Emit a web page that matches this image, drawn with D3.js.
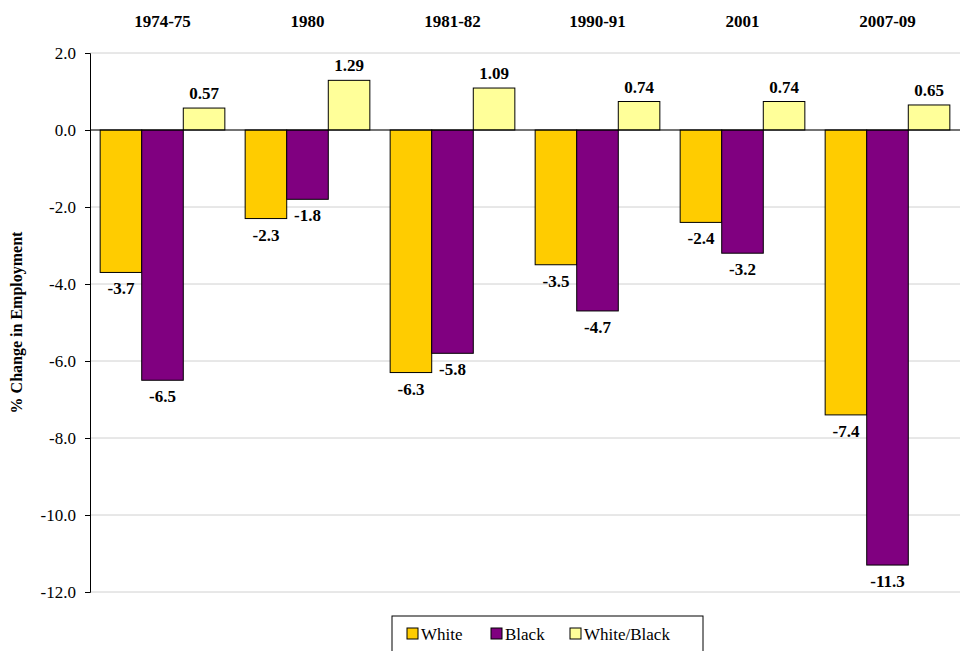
<!DOCTYPE html>
<html>
<head>
<meta charset="utf-8">
<style>
  body {margin:0; background:#fff;}
  svg text {font-family:"Times New Roman",Times,"Liberation Serif","DejaVu Serif",serif;}
  .lbl {font-size:17px; font-weight:bold;}
</style>
<script src="https://cdn.jsdelivr.net/npm/d3@7"></script>
</head>
<body>
<svg id="chart" width="961" height="651"></svg>
<script>
var periods = ["1974-75","1980","1981-82","1990-91","2001","2007-09"];
var seriesNames = ["White","Black","White/Black"];
var white = [-3.7,-2.3,-6.3,-3.5,-2.4,-7.4];
var black = [-6.5,-1.8,-5.8,-4.7,-3.2,-11.3];
var ratio = [0.57,1.29,1.09,0.74,0.74,0.65];
var ratioLabels = ["0.57","1.29","1.09","0.74","0.74","0.65"];
var yTicks = [2,0,-2,-4,-6,-8,-10,-12];
var colors = ["#FFCC00","#800080","#FFFF99"];

var svg = d3.select("#chart");
var pLeft = 90, pRight = 960, pTop = 53, pBottom = 592;
var x = d3.scaleBand().domain(periods).range([pLeft, pRight]).paddingInner(0.14).paddingOuter(0.07);
var xs = d3.scaleBand().domain(seriesNames).range([0, x.bandwidth()]);
var y = d3.scaleLinear().domain([-12, 2]).range([pBottom, pTop]);

svg.append("g").selectAll("line").data(yTicks).enter().append("line")
  .attr("x1", pLeft).attr("x2", pRight)
  .attr("y1", d => y(d)).attr("y2", d => y(d))
  .attr("stroke", "#d0d0d0");

var ax = svg.append("g").attr("transform", "translate(" + pLeft + ",0)")
  .call(d3.axisLeft(y).tickValues(yTicks).tickSize(5).tickFormat(d => d.toFixed(1)));
ax.attr("font-family", null).attr("font-size", null);
ax.select(".domain").attr("stroke", "#000");
ax.selectAll(".tick text").attr("dx", "-6").attr("fill", "#000").style("font-size", "17px");

var data = [white, black, ratio];
data.forEach(function(vals, s) {
  svg.append("g").selectAll("rect").data(vals).enter().append("rect")
    .attr("x", (d, i) => x(periods[i]) + xs(seriesNames[s]))
    .attr("width", xs.bandwidth())
    .attr("y", d => y(Math.max(0, d)))
    .attr("height", d => Math.abs(y(d) - y(0)))
    .attr("fill", colors[s]).attr("stroke", "#000").attr("stroke-width", 1);
  svg.append("g").selectAll("text").data(vals).enter().append("text")
    .attr("class", "lbl").attr("text-anchor", "middle")
    .attr("x", (d, i) => x(periods[i]) + xs(seriesNames[s]) + xs.bandwidth() / 2)
    .attr("y", d => d < 0 ? y(d) + 22 : y(d) - 9)
    .text((d, i) => s == 2 ? ratioLabels[i] : d.toFixed(1));
});

svg.append("line").attr("x1", pLeft).attr("x2", pRight).attr("y1", y(0)).attr("y2", y(0)).attr("stroke", "#000");

svg.append("g").selectAll("text").data(periods).enter().append("text")
  .attr("class", "lbl").attr("text-anchor", "middle")
  .attr("x", d => x(d) + x.bandwidth() / 2).attr("y", 27).text(d => d);

svg.append("text").attr("class", "lbl").attr("text-anchor", "middle")
  .attr("transform", "translate(22," + ((pTop + pBottom) / 2) + ") rotate(-90)")
  .style("font-size", "16px").text("% Change in Employment");

var lg = svg.append("g");
lg.append("rect").attr("x", 392).attr("y", 616).attr("width", 311).attr("height", 40)
  .attr("fill", "#fff").attr("stroke", "#000");
var lx = [407, 491, 570];
seriesNames.forEach(function(n, i) {
  lg.append("rect").attr("x", lx[i]).attr("y", 628).attr("width", 11).attr("height", 11)
    .attr("fill", colors[i]).attr("stroke", "#000");
  lg.append("text").attr("x", lx[i] + 14).attr("y", 640).style("font-size", "17px").text(n);
});
</script>
</body>
</html>
